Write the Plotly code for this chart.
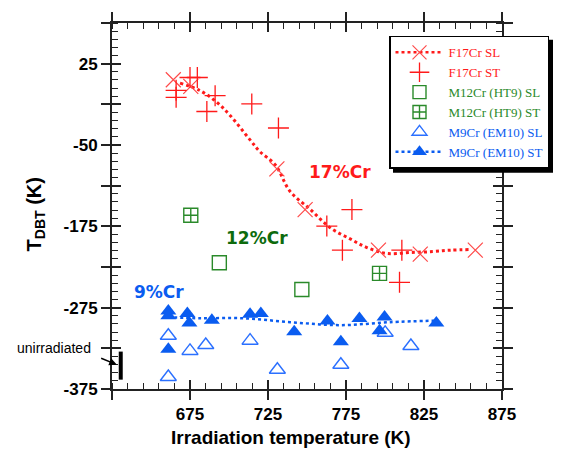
import plotly.graph_objects as go

# ---------------- data ----------------
f17_sl_T = [664.3, 675.5, 730.7, 748.8, 795.8, 822.6, 857.9]
f17_sl_v = [5.2, -3.0, -104.4, -154.4, -204.3, -209.2, -204.3]

f17_st_T = [666.1, 666.1, 675.0, 679.7, 691.1, 685.8, 714.6, 731.7, 762.7, 778.8, 772.7, 810.8, 809.3]
f17_st_v = [-7.8, -16.4, 8.0, 8.0, -14.3, -33.8, -24.5, -54.1, -174.7, -154.4, -204.3, -204.3, -243.8]

f17_fit_T = [668.6, 681.5, 692.2, 700.7, 713.5, 719.9, 729.6, 739.2, 752.0, 764.9, 777.7, 788.4, 801.2, 816.2, 830.9, 841.8, 854.7]
f17_fit_v = [1.1, -8.2, -22.4, -38.6, -68.7, -83.3, -99.2, -132.1, -154.0, -176.8, -190.5, -201.1, -208.4, -207.2, -206.0, -204.3, -203.6]

m12_sl_T = [693.8, 746.7]
m12_sl_v = [-219.8, -252.6]

m12_st_T = [675.5, 796.5]
m12_st_v = [-161.3, -232.8]

m9_sl_T = [661.1, 675.0, 685.1, 713.5, 661.1, 731.0, 771.7, 800.1, 816.6]
m9_sl_v = [-309.5, -328.2, -320.9, -315.6, -360.2, -351.3, -345.2, -305.9, -322.1]

m9_st_T = [661.1, 661.1, 673.3, 674.6, 689.0, 713.5, 720.4, 741.8, 763.1, 783.6, 799.7, 796.5, 771.7, 832.9, 661.1]
m9_st_v = [-279.0, -285.0, -282.2, -293.7, -290.4, -283.1, -282.2, -304.7, -291.3, -288.3, -286.4, -303.4, -316.8, -293.7, -326.1]

m9_fit_T = [661.0, 681.5, 709.0, 739.2, 771.3, 803.3, 832.9]
m9_fit_v = [-286.8, -288.0, -288.0, -292.8, -296.5, -292.8, -290.9]

unirr_T = [630.6, 630.6]
unirr_v = [-329.0, -363.5]

x_tickvals = [625, 675, 725, 775, 825, 875]
x_ticktext = ["", "675", "725", "775", "825", "875"]
y_tickvals = [-375, -325, -275, -225, -175, -125, -75, -25, 25, 75]
y_ticktext = ["-375", "", "-275", "", "-175", "", "-50", "", "25", ""]

RED = "#ff1a1a"
XRED = "#ff4a4a"
GREEN = "#2a8a2a"
DGREEN = "#0d6b0d"
BLUE = "#0a5cf0"
LBLUE = "#2b70ff"

# plot-area geometry (pixels) used to place paper-referenced items
L, T, W, H = 112, 20, 390, 369
def px(xp):
    return (xp - L) / W
def py(yp):
    return 1 - (yp - T) / H

fig = go.Figure()

def lg(name, color):
    return f'<span style="color:{color}">{name}</span>'

# legend-only entries (in legend order)
fig.add_trace(go.Scatter(x=[None], y=[None], mode="lines+markers", name=lg("F17Cr SL", RED),
                         line=dict(color=RED, width=2.5, dash="dot"),
                         marker=dict(symbol="x-thin-open", size=14, color=XRED, line=dict(color=XRED, width=1.2))))
fig.add_trace(go.Scatter(x=[None], y=[None], mode="markers", name=lg("F17Cr ST", RED),
                         marker=dict(symbol="cross-thin-open", size=14, color=RED, line=dict(color=RED, width=1.3))))
fig.add_trace(go.Scatter(x=[None], y=[None], mode="markers", name=lg("M12Cr (HT9) SL", GREEN),
                         marker=dict(symbol="square-open", size=13, color=GREEN, line=dict(color=GREEN, width=1.4))))
fig.add_trace(go.Scatter(x=[None], y=[None], mode="markers", name=lg("M12Cr (HT9) ST", GREEN),
                         marker=dict(symbol="square-cross-open", size=13, color=GREEN, line=dict(color=GREEN, width=1.4))))
fig.add_trace(go.Scatter(x=[None], y=[None], mode="markers", name=lg("M9Cr (EM10) SL", BLUE),
                         marker=dict(symbol="triangle-up-open", size=13, color=LBLUE, line=dict(color=LBLUE, width=1.4))))
fig.add_trace(go.Scatter(x=[None], y=[None], mode="lines+markers", name=lg("M9Cr (EM10) ST", BLUE),
                         line=dict(color=BLUE, width=2.5, dash="3px,3px"),
                         marker=dict(symbol="triangle-up", size=13, color=BLUE)))

# fit lines
fig.add_trace(go.Scatter(x=f17_fit_T, y=f17_fit_v, mode="lines", showlegend=False,
                         line=dict(color=RED, width=3, dash="dot", shape="spline")))
fig.add_trace(go.Scatter(x=m9_fit_T, y=m9_fit_v, mode="lines", showlegend=False,
                         line=dict(color=BLUE, width=2.5, dash="3px,3px", shape="spline")))

# data
fig.add_trace(go.Scatter(x=f17_sl_T, y=f17_sl_v, mode="markers", showlegend=False,
                         marker=dict(symbol="x-thin-open", size=15, color=XRED, line=dict(color=XRED, width=1.2))))
fig.add_trace(go.Scatter(x=f17_st_T, y=f17_st_v, mode="markers", showlegend=False,
                         marker=dict(symbol="cross-thin-open", size=15, color=RED, line=dict(color=RED, width=1.3))))
fig.add_trace(go.Scatter(x=m12_sl_T, y=m12_sl_v, mode="markers", showlegend=False,
                         marker=dict(symbol="square-open", size=14, color=GREEN, line=dict(color=GREEN, width=1.4))))
fig.add_trace(go.Scatter(x=m12_st_T, y=m12_st_v, mode="markers", showlegend=False,
                         marker=dict(symbol="square-cross-open", size=14, color=GREEN, line=dict(color=GREEN, width=1.4))))
fig.add_trace(go.Scatter(x=m9_sl_T, y=m9_sl_v, mode="markers", showlegend=False,
                         marker=dict(symbol="triangle-up-open", size=14, color=LBLUE, line=dict(color=LBLUE, width=1.4))))
fig.add_trace(go.Scatter(x=m9_st_T, y=m9_st_v, mode="markers", showlegend=False,
                         marker=dict(symbol="triangle-up", size=14, color=BLUE)))
fig.add_trace(go.Scatter(x=unirr_T, y=unirr_v, mode="lines", showlegend=False,
                         line=dict(color="black", width=4)))

# overlay axes to give crossing major ticks
fig.add_trace(go.Scatter(x=[None], y=[None], xaxis="x2", yaxis="y2", showlegend=False))

axis_font = dict(family="Liberation Sans, Arial", size=17, color="black", weight="bold")
common = dict(showgrid=False, zeroline=False, showline=True, linecolor="#222", linewidth=2,
              ticks="outside", ticklen=9, tickwidth=2, tickcolor="#222", mirror="allticks")

fig.update_layout(
    width=568, height=452,
    margin=dict(l=L, r=568 - L - W, t=T, b=452 - T - H),
    paper_bgcolor="white", plot_bgcolor="white",
    xaxis=dict(range=[625, 875], tickmode="array", tickvals=x_tickvals, ticktext=x_ticktext,
               tickfont=axis_font,
               minor=dict(tickmode="linear", tick0=625, dtick=10, ticks="inside", ticklen=6,
                          tickwidth=1.3, tickcolor="#222"),
               **common),
    yaxis=dict(range=[-375, 75], tickmode="array", tickvals=y_tickvals, ticktext=y_ticktext,
               tickfont=axis_font,
               minor=dict(tickmode="linear", tick0=-375, dtick=10, ticks="inside", ticklen=6,
                          tickwidth=1.3, tickcolor="#222"),
               **common),
    xaxis2=dict(range=[625, 875], overlaying="x", anchor="y2", tickmode="array", tickvals=x_tickvals,
                showticklabels=False, ticks="inside", ticklen=9, tickwidth=2, tickcolor="#222",
                mirror="allticks", showline=False, showgrid=False, zeroline=False, side="bottom"),
    yaxis2=dict(range=[-375, 75], overlaying="y", anchor="x2", tickmode="array", tickvals=y_tickvals,
                showticklabels=False, ticks="inside", ticklen=9, tickwidth=2, tickcolor="#222",
                mirror="allticks", showline=False, showgrid=False, zeroline=False, side="left"),
    legend=dict(x=px(389), y=py(33), xanchor="left", yanchor="top",
                bgcolor="white", bordercolor="black", borderwidth=1.5,
                font=dict(family="Liberation Serif, Times New Roman", size=13),
                tracegroupgap=0, itemwidth=48),
    showlegend=True,
)

# legend drop shadow
fig.add_shape(type="rect", xref="paper", yref="paper", x0=px(393), x1=px(553), y0=py(171), y1=py(37),
              fillcolor="black", line=dict(width=0), layer="above")

# group labels
lab_font = dict(family="DejaVu Sans", size=17, weight="bold")
fig.add_annotation(x=771.3, y=-107.7, xref="x", yref="y", text="17%Cr", showarrow=False,
                   font=dict(color=RED, **lab_font))
fig.add_annotation(x=717.8, y=-189.7, xref="x", yref="y", text="12%Cr", showarrow=False,
                   font=dict(color=DGREEN, **lab_font))
fig.add_annotation(x=655.3, y=-256.0, xref="x", yref="y", text="9%Cr", showarrow=False,
                   font=dict(color=BLUE, **lab_font))

# unirradiated label and arrow
fig.add_annotation(x=px(54), y=py(348), xref="paper", yref="paper", xanchor="center", yanchor="middle",
                   text="unirradiated", showarrow=False,
                   font=dict(family="Liberation Sans, Arial", size=14, color="black"))
fig.add_annotation(x=628, y=-345, xref="x", yref="y", text="", showarrow=True,
                   ax=-17, ay=-7, arrowhead=2, arrowsize=1, arrowwidth=1.5, arrowcolor="black")

# axis titles
fig.add_annotation(x=px(291), y=py(438), xref="paper", yref="paper", xanchor="center", yanchor="middle",
                   text="<b>Irradiation temperature (K)</b>", showarrow=False,
                   font=dict(family="Liberation Sans, Arial", size=19, color="black"))
fig.add_annotation(x=px(35), y=py(213), xref="paper", yref="paper", xanchor="center", yanchor="middle",
                   text="<b>T<sub>DBT</sub> (K)</b>", showarrow=False, textangle=-90,
                   font=dict(family="Liberation Sans, Arial", size=20, color="black"))

fig.write_html("out.html", config={"displayModeBar": False},
               post_script="document.body.style.margin='0';")
